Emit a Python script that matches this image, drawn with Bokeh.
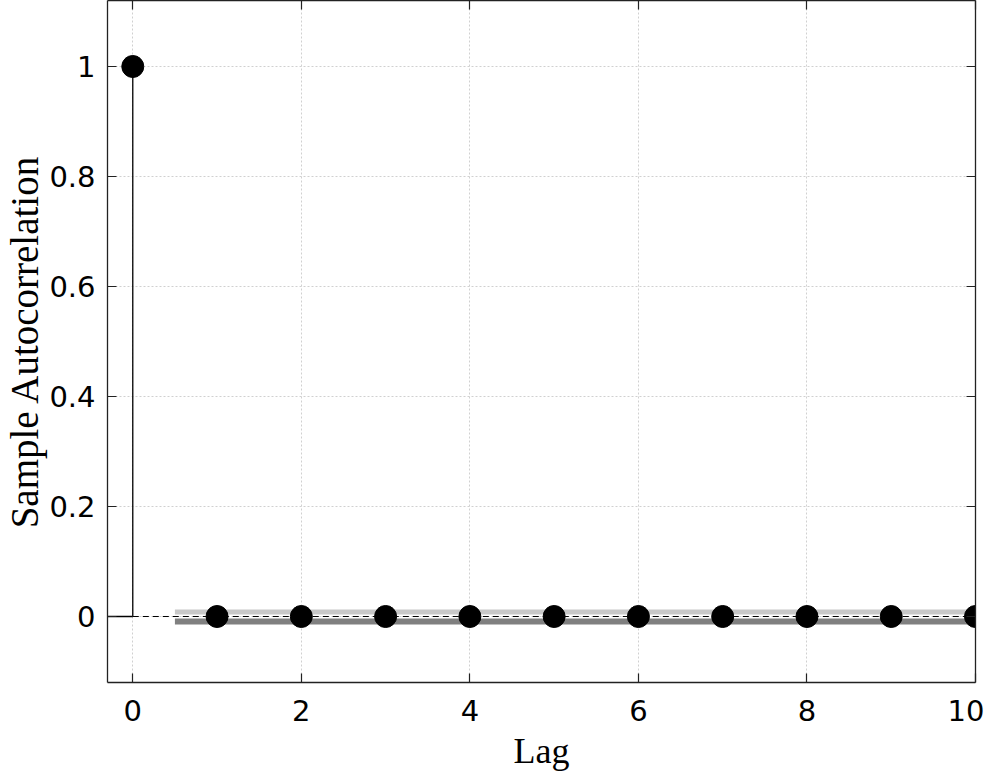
from bokeh.plotting import figure
from bokeh.models import LinearAxis, FixedTicker, CustomJSTickFormatter, Range1d
from bokeh.embed import file_html
from bokeh.resources import INLINE

# ---- data ----
lags = [0, 1, 2, 3, 4, 5, 6, 7, 8, 9, 10]
acf = [1.0, 0.0, 0.0, 0.0, 0.0, 0.0, 0.0, 0.0, 0.0, 0.0, 0.0]
conf_upper = 0.0082
conf_lower = -0.0090
band_start = 0.5
band_end = 10
x_ticks = [0, 2, 4, 6, 8, 10]
y_ticks = [0, 0.2, 0.4, 0.6, 0.8, 1]
x_min, x_max = -0.3, 10
y_min, y_max = -0.12, 1.12

p = figure(frame_width=868, frame_height=682, output_backend="svg", toolbar_location=None,
           x_range=Range1d(x_min, x_max), y_range=Range1d(y_min, y_max),
           min_border_left=103, min_border_right=9, min_border_top=0, min_border_bottom=0)
p.outline_line_color = None
p.background_fill_color = "white"
p.border_fill_color = "white"

fmt = CustomJSTickFormatter(code="return String(Math.round(tick*10)/10);")
blank = CustomJSTickFormatter(code="return '';")

for ax, ticks in ((p.xaxis[0], x_ticks), (p.yaxis[0], y_ticks)):
    ax.ticker = FixedTicker(ticks=ticks)
    ax.formatter = fmt
    ax.major_tick_in = 9
    ax.major_tick_out = 0
    ax.minor_tick_line_color = None
    ax.axis_line_color = "#222222"
    ax.axis_line_width = 1.3
    ax.major_tick_line_color = "#222222"
    ax.major_tick_line_width = 1.2
    ax.major_label_text_font = "DejaVu Sans"
    ax.major_label_text_font_size = "29px"
    ax.major_label_text_color = "black"
    ax.axis_label_text_font = "Liberation Serif"
    ax.axis_label_text_font_style = "normal"
    ax.axis_label_text_color = "black"

p.xaxis[0].axis_label = "Lag"
p.xaxis[0].axis_label_text_font_size = "36px"
p.xaxis[0].major_label_standoff = 17
p.xaxis[0].axis_label_standoff = 7
p.yaxis[0].axis_label = "Sample Autocorrelation"
p.yaxis[0].axis_label_text_font_size = "39px"
p.yaxis[0].major_label_standoff = 12
p.yaxis[0].axis_label_standoff = 0

for side, ticks in (("above", x_ticks), ("right", y_ticks)):
    ax = LinearAxis(ticker=FixedTicker(ticks=ticks), formatter=blank)
    ax.major_tick_in = 9
    ax.major_tick_out = 0
    ax.minor_tick_line_color = None
    ax.axis_line_color = "#222222"
    ax.axis_line_width = 1.3
    ax.major_tick_line_color = "#222222"
    ax.major_tick_line_width = 1.2
    ax.major_label_standoff = 0
    p.add_layout(ax, side)

p.xgrid.ticker = FixedTicker(ticks=x_ticks)
p.ygrid.ticker = FixedTicker(ticks=y_ticks)
for g in (p.xgrid[0], p.ygrid[0]):
    g.grid_line_color = "#d0d0d0"
    g.grid_line_dash = "2 2"
    g.grid_line_width = 1

# confidence bands
p.line(x=[band_start, band_end], y=[conf_upper, conf_upper], line_color="#c8c8c8", line_width=5)
p.line(x=[band_start, band_end], y=[conf_lower, conf_lower], line_color="#808080", line_width=6)

# baseline
p.line(x=[x_min, lags[0]], y=[0, 0], line_color="black", line_width=1.3)
p.line(x=[lags[0], lags[-1]], y=[0, 0], line_color="black", line_width=1.2, line_dash="6 4")

# stems and markers
p.segment(x0=lags, y0=[0] * len(lags), x1=lags, y1=acf, line_color="black", line_width=1.3)
p.scatter(x=lags, y=acf, size=22, fill_color="black", line_color="black")

open("out.html", "w").write(file_html(p, INLINE))
